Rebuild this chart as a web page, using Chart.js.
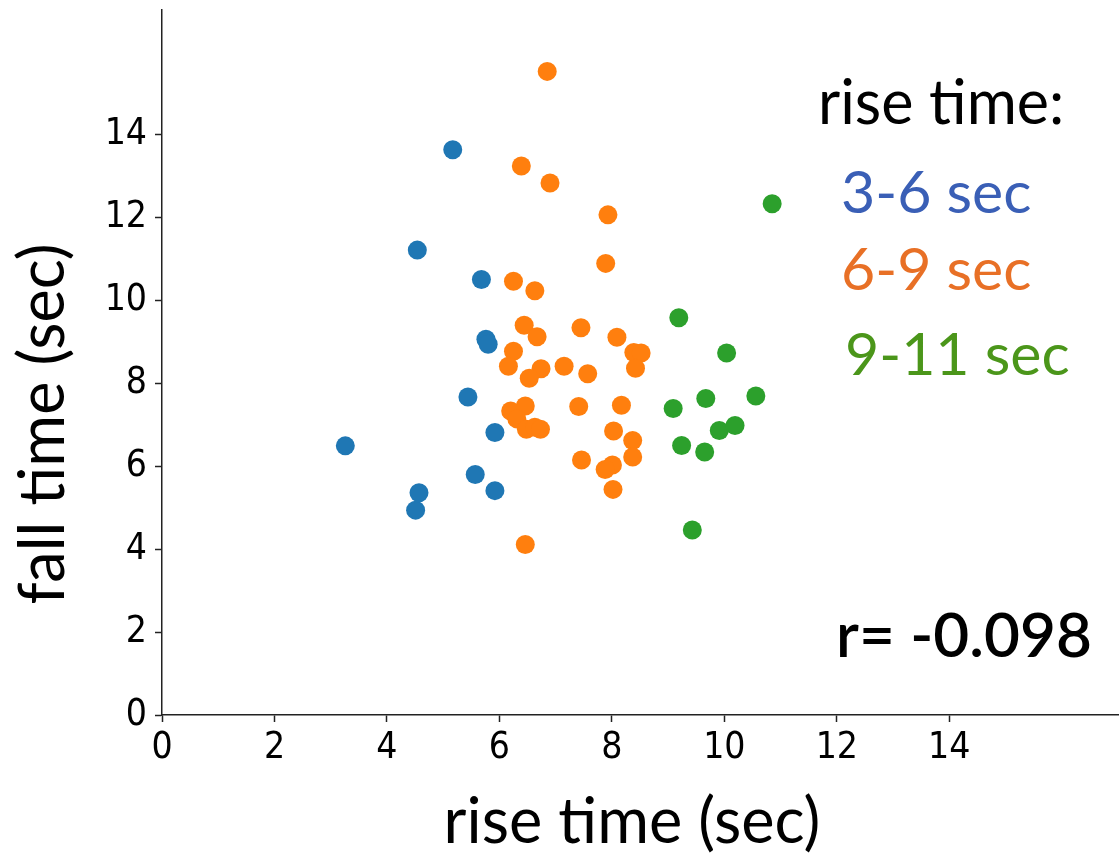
<!DOCTYPE html>
<html>
<head>
<meta charset="utf-8">
<script src="https://cdn.jsdelivr.net/npm/chart.js@4"></script>
<style>
  html, body { margin: 0; padding: 0; background: #fff; }
  #wrap { width: 1120px; height: 858px; }
</style>
</head>
<body>
<div id="wrap"><canvas id="chart" width="1120" height="858"></canvas></div>
<script>
// Data (rise time vs fall time, seconds)
const blueX = [3.26, 4.54, 4.51, 4.57, 5.17, 5.44, 5.57, 5.68, 5.76, 5.80, 5.92, 5.92];
const blueY = [6.49, 11.21, 4.94, 5.36, 13.63, 7.67, 5.80, 10.50, 9.06, 8.94, 6.81, 5.41];

const orangeX = [6.85, 6.39, 6.90, 7.93, 7.89, 6.25, 6.63, 6.44, 6.67, 7.45, 8.09, 8.39,
  8.52, 8.42, 6.25, 6.16, 6.74, 6.53, 7.15, 7.57, 7.41, 8.17, 6.20, 6.46, 6.31, 6.48,
  6.63, 6.73, 8.03, 8.37, 8.37, 7.46, 8.01, 7.88, 8.02, 6.46];
const orangeY = [15.52, 13.24, 12.83, 12.06, 10.89, 10.46, 10.23, 9.40, 9.12, 9.34, 9.11, 8.74,
  8.73, 8.36, 8.77, 8.41, 8.35, 8.12, 8.41, 8.23, 7.44, 7.47, 7.33, 7.45, 7.14, 6.89,
  6.94, 6.89, 6.85, 6.62, 6.22, 6.15, 6.03, 5.92, 5.44, 4.11];

const greenX = [10.85, 9.19, 10.04, 9.09, 9.67, 10.56, 9.91, 10.19, 9.24, 9.65, 9.43];
const greenY = [12.33, 9.58, 8.73, 7.39, 7.63, 7.69, 6.86, 6.98, 6.50, 6.34, 4.46];

const tickValues = [0, 2, 4, 6, 8, 10, 12, 14];
const legendLabels = ['3-6 sec', '6-9 sec', '9-11 sec'];
const rText = 'r= -0.098';

const COLORS = {
  blue: '#1f77b4',
  orange: '#ff7f0e',
  green: '#2ca02c',
  legend: ['#3a5fb6', '#e87026', '#4b961a'],
  axis: '#222222'
};

const TICK_FONT = { family: "'DejaVu Sans Condensed', 'DejaVu Sans', sans-serif", size: 37 };
const TEXT_FAMILY = "Lato, 'Open Sans', sans-serif";

function toPoints(xs, ys) {
  return xs.map((x, i) => ({ x, y: ys[i] }));
}

function fixedTicks(scale) {
  scale.ticks = tickValues.map(v => ({ value: v }));
}

// Titles, legend text and the r annotation
const textPlugin = {
  id: 'texts',
  afterDraw(chart) {
    const ctx = chart.ctx;
    ctx.save();
    ctx.fillStyle = '#000';
    ctx.textBaseline = 'alphabetic';

    // x axis title
    ctx.font = `63px ${TEXT_FAMILY}`;
    ctx.textAlign = 'center';
    ctx.fillText('rise time (sec)', 632, 843);

    // y axis title (rotated)
    ctx.save();
    ctx.translate(64, 424);
    ctx.rotate(-Math.PI / 2);
    ctx.fillText('fall time (sec)', 0, 0);
    ctx.restore();

    // legend heading
    ctx.textAlign = 'left';
    ctx.font = `61px ${TEXT_FAMILY}`;
    ctx.fillText('rise time:', 818, 124);

    ctx.font = `59px ${TEXT_FAMILY}`;
    const legendY = [213, 290, 375];
    const legendX = [841, 841, 845];
    legendLabels.forEach((label, i) => {
      ctx.fillStyle = COLORS.legend[i];
      ctx.fillText(label, legendX[i], legendY[i]);
    });

    // correlation
    ctx.fillStyle = '#000';
    ctx.font = `600 62px ${TEXT_FAMILY}`;
    ctx.fillText(rText, 836, 657);
    ctx.restore();
  }
};

const ctx = document.getElementById('chart').getContext('2d');

new Chart(ctx, {
  type: 'scatter',
  data: {
    datasets: [
      { label: '3-6 sec', data: toPoints(blueX, blueY), backgroundColor: COLORS.blue },
      { label: '6-9 sec', data: toPoints(orangeX, orangeY), backgroundColor: COLORS.orange },
      { label: '9-11 sec', data: toPoints(greenX, greenY), backgroundColor: COLORS.green }
    ]
  },
  options: {
    responsive: false,
    animation: false,
    events: [],
    layout: { autoPadding: false, padding: { top: 10, right: 2, left: 0, bottom: 0 } },
    elements: {
      point: { radius: 9.5, borderWidth: 0, hoverRadius: 9.5 }
    },
    plugins: {
      legend: { display: false },
      tooltip: { enabled: false }
    },
    scales: {
      x: {
        type: 'linear',
        min: 0,
        max: 17,
        afterBuildTicks: fixedTicks,
        afterFit(scale) {
          scale.height = 143;
          scale.paddingLeft = 0;
          scale.paddingRight = 0;
        },
        grid: { display: true, drawOnChartArea: false, drawTicks: true, tickLength: 7, tickColor: COLORS.axis, tickWidth: 1.5 },
        border: { display: true, color: COLORS.axis, width: 1.5 },
        ticks: { color: '#000', font: TICK_FONT, padding: 4, maxRotation: 0, autoSkip: false }
      },
      y: {
        type: 'linear',
        min: 0,
        max: 17,
        afterBuildTicks: fixedTicks,
        afterFit(scale) {
          scale.width = 162;
          scale.paddingTop = 0;
          scale.paddingBottom = 0;
        },
        grid: { display: true, drawOnChartArea: false, drawTicks: true, tickLength: 7, tickColor: COLORS.axis, tickWidth: 1.5 },
        border: { display: true, color: COLORS.axis, width: 1.5 },
        ticks: { color: '#000', font: TICK_FONT, padding: 8, autoSkip: false }
      }
    }
  },
  plugins: [textPlugin]
});
</script>
</body>
</html>
